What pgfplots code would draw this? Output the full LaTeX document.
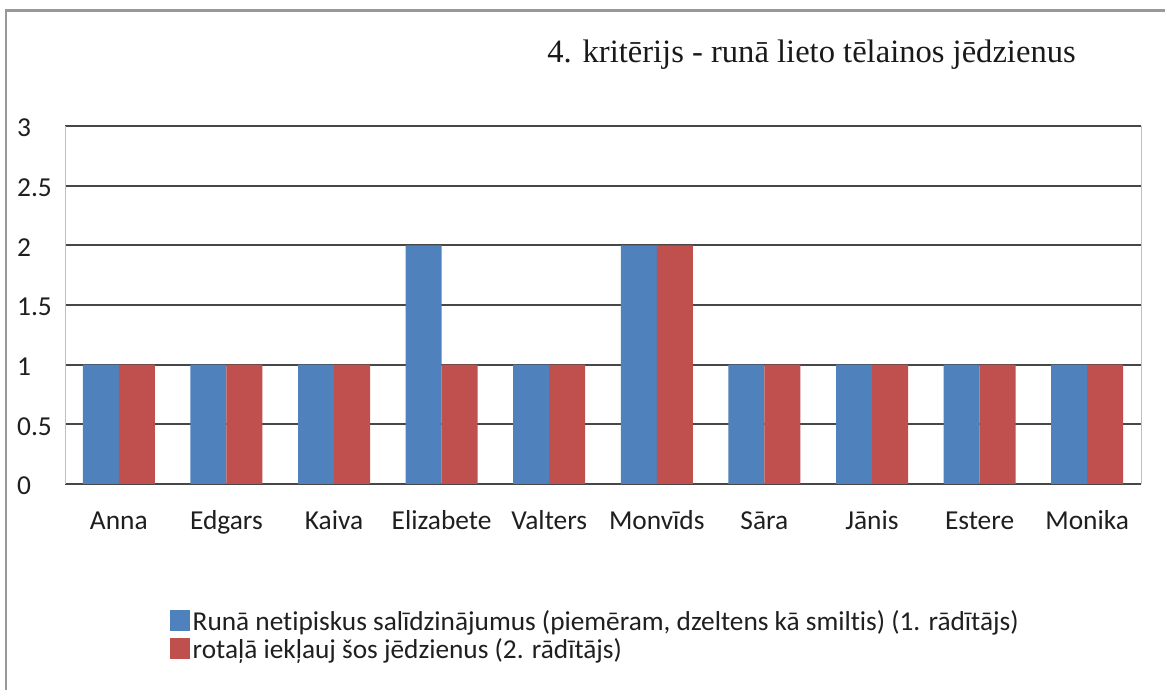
\documentclass[border=0pt]{standalone}
\usepackage{pgfplots}
\pgfplotsset{compat=1.18}
\usepackage{fontspec}
\setmainfont{Carlito}[Ligatures=NoCommon]
\newfontfamily\titlefont{Liberation Serif}
\definecolor{cblue}{HTML}{4F81BD}
\definecolor{cred}{HTML}{C0504D}
\begin{document}
\begin{tikzpicture}[x=1bp,y=1bp]
\useasboundingbox (0,0) rectangle (1165,690);
\fill[white] (0,0) rectangle (1165,690);
\draw[black!40, line width=2.5bp] (6,0) -- (6,679.5) -- (1165,679.5);
\node[anchor=base, font=\titlefont\fontsize{32.7}{36}\selectfont, text=black!90, inner sep=0pt] at (811.5,627) {4. kritērijs - runā lieto tēlainos jēdzienus};
\begin{axis}[
  at={(65bp,206bp)}, anchor=south west,
  scale only axis, width=1076bp, height=358bp,
  ybar=0pt, bar width=36bp,
  xmin=-0.5, xmax=9.5, ymin=0, ymax=3,
  ytick={0,0.5,1,1.5,2,2.5,3},
  xtick={0,...,9},
  xticklabels={Anna,Edgars,Kaiva,Elizabete,Valters,Monvīds,Sāra,Jānis,Estere,Monika},
  /pgf/number format/assume math mode=true,
  tick style={draw=none},
  separate axis lines,
  x axis line style={draw=black!72, line width=1.8bp},
  y axis line style={draw=black!25, line width=0.8bp},
  ymajorgrids,
  major grid style={draw=black!72, line width=1.8bp},
  yticklabel style={anchor=west, inner sep=0pt, xshift=-48bp, yshift=-2bp, font=\fontsize{27.5}{31}\selectfont, text=black!88},
  xticklabel style={anchor=base, inner sep=0pt, yshift=-41bp, font=\fontsize{27.5}{31}\selectfont, text=black!88},
  legend style={at={(0.0976,-0.349)}, anchor=north west, draw=none, fill=none, inner sep=0pt,
    font=\fontsize{27.4}{31}\selectfont, text=black!88, row sep=0bp,
    nodes={inner ysep=1bp, inner xsep=2.5bp, text height=20bp, text depth=6bp}},
  legend cell align=left,
  legend image code/.code={\fill[#1] (0bp,-8bp) rectangle (20bp,13bp);},
]
\addplot[fill=cblue, draw=none] coordinates {(0,1) (1,1) (2,1) (3,2) (4,1) (5,2) (6,1) (7,1) (8,1) (9,1)};
\addplot[fill=cred, draw=none] coordinates {(0,1) (1,1) (2,1) (3,1) (4,1) (5,2) (6,1) (7,1) (8,1) (9,1)};
\legend{{Runā netipiskus salīdzinājumus (piemēram, dzeltens kā smiltis) (1. rādītājs)}, {rotaļā iekļauj šos jēdzienus (2. rādītājs)}}
\end{axis}
\end{tikzpicture}
\end{document}
